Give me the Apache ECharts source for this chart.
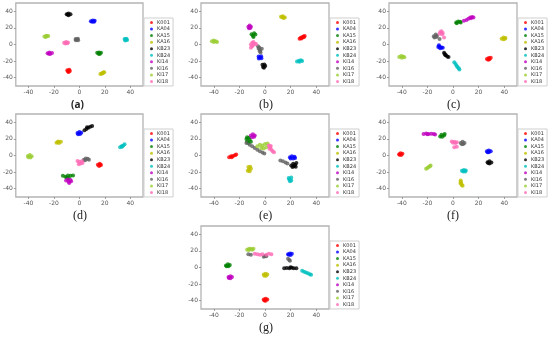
<!DOCTYPE html>
<html><head><meta charset="utf-8">
<script src="https://cdn.jsdelivr.net/npm/echarts@6/dist/echarts.min.js"></script>
<style>html,body{margin:0;padding:0;background:#fff}#c{width:550px;height:338px}</style>
</head><body><div id="c"></div>
<script>
// class names and colours (legend order)
const classNames = ['K001','KA04','KA15','KA16','KB23','KB24','KI14','KI16','KI17','KI18'];
const classColors = ['#ff0000','#0000ff','#008000','#bfbf00','#000000','#00bfbf','#bf00bf','#606060','#9acd32','#ff69b4'];
const panelLabels = ['(a)','(b)','(c)','(d)','(e)','(f)','(g)'];
const tickValues = [-40,-20,0,20,40];

// points per panel, one list per class in classNames order
const pointsA = [
 [[-9.5,-31],[-8,-30.5],[-8.5,-33],[-7.5,-32],[-9,-32.5]],
 [[9,28],[10.5,29],[12,28.5],[10,27.3],[11.5,27.5]],
 [[14,-10],[15.5,-9.5],[17,-10],[16,-11.5],[15,-11]],
 [[16.5,-35.5],[17.5,-34.8],[18.5,-34],[19.5,-33.3],[18,-35],[19,-33.8]],
 [[-10,36.5],[-8.5,37.5],[-7,36.5],[-8.5,35.3],[-9.3,36]],
 [[35.5,6.5],[37,7],[37.5,5.5],[36,4.8],[36.5,6]],
 [[-25,-10.5],[-23.5,-9.5],[-21.5,-10.3],[-23,-11.5],[-24,-11]],
 [[-3,6.5],[-1.2,6.8],[-2.8,5],[-1,5],[-2,6]],
 [[-27.5,9.5],[-26,10.5],[-24.5,10.3],[-26.5,9],[-25.5,9.8]],
 [[-12,2],[-10.5,3],[-9,2.5],[-11,1.3],[-9.5,1.5]]
];
const pointsB = [
 [[27,7],[28,8],[29,8.8],[30,9.5],[31,10.2],[28.5,7.3],[30.3,8.8]],
 [[-5,-14.5],[-3,-14.3],[-2.8,-16.5],[-4.8,-16.8],[-3.9,-15.6]],
 [[-10.5,12.5],[-8.5,13.5],[-7.5,12],[-9.5,10.5],[-9,9]],
 [[12.5,33.5],[14,34],[15.5,32.5],[14.5,31.8],[13.5,32.8]],
 [[-2,-24.5],[-0.5,-24],[0.2,-26],[-1.5,-27],[-0.8,-28]],
 [[25,-20.5],[26.5,-19.5],[28,-19],[29,-20],[27,-20.8]],
 [[-13,21.5],[-12,22.8],[-11,21.5],[-12.5,19.5],[-11.5,20]],
 [[-5.5,-2],[-4.5,-3.5],[-5,-5],[-3.8,-6.5],[-4,-8],[-3.5,-9.5],[-2.5,-5]],
 [[-41.5,4],[-40,4.8],[-38.5,3.8],[-37.5,3],[-40,3]],
 [[-10,2],[-9,3],[-8,1],[-11,0],[-7,0.5],[-10,-2],[-11,-4],[-9.5,-1]]
];
const pointsC = [
 [[26.5,-17.5],[28,-16.3],[29.5,-16],[28.5,-17.8],[27.5,-18.5]],
 [[-11,-1],[-10.5,-2.5],[-9,-3.5],[-10,-4.5],[-8,-4],[-11.5,-3]],
 [[2.5,26.5],[4,27.8],[5.5,27.5],[3,25.5],[6,26.5]],
 [[38,7],[39.5,8.5],[41,7.8],[39.5,6.3],[40.5,7]],
 [[-7,-10],[-6.5,-11.5],[-5.5,-13],[-4.5,-14.5],[-3.5,-15],[-6,-12.5]],
 [[1,-21.5],[2,-23.5],[2.8,-25.5],[3.5,-27],[4.5,-28.5],[5,-30]],
 [[8.5,28.5],[10.5,29.5],[12,31],[13.5,32.5],[15,33],[16,32.5],[14,31.5]],
 [[-15,10],[-13.5,12],[-12.5,10.5],[-14.5,8.5],[-13,9],[-10.5,6.5]],
 [[-42,-15],[-40.5,-14],[-39,-14.5],[-38,-15.5],[-40,-16]],
 [[-10,15],[-9,16],[-8,14],[-10.5,13],[-8.5,12.5],[-7,8.5]]
];
const pointsD = [
 [[14.5,-11],[16,-10],[17,-11.5],[15.5,-12.5],[16.2,-11]],
 [[-1.5,27],[0,28.2],[1.5,27.5],[0.5,25.8],[-1,25.5]],
 [[-13,-24.5],[-11,-25.5],[-9,-24],[-7,-24.5],[-5,-24],[-10,-26.5],[-8.5,-27]],
 [[-18,15.5],[-16.5,16.8],[-14.5,16.5],[-16,15],[-17,16.2]],
 [[4,30.5],[5.5,32],[7,33.5],[8.5,34.5],[10,35.5],[6,34]],
 [[32,10],[33.2,11],[34.5,12],[35.5,13.5],[33.5,10.5]],
 [[-10.5,-30],[-9,-29],[-7,-29.5],[-6.5,-31],[-8.5,-31.5],[-8,-33]],
 [[3.5,-5],[5,-3.5],[6.5,-4],[7.5,-5],[4.5,-5.8]],
 [[-40.5,-0.5],[-39,0.5],[-37.5,-1],[-38.5,-2.5],[-40,-2]],
 [[-1.5,-6.5],[0,-7.5],[2,-7],[1,-9.5],[-0.5,-10.5],[2.5,-9]]
];
const pointsE = [
 [[-28,-2],[-26.5,-1],[-25,-0.5],[-23.5,0.3],[-22.5,1.2],[-26,-2]],
 [[19.5,-2],[21,-1],[23,-1.5],[22,-3.5],[20,-3.5],[23.5,-3]],
 [[-14.5,20],[-14,17],[-13,15],[-12,19],[-11,16.5],[-14,22],[-12.5,21.5]],
 [[-13,-14],[-11.5,-13.5],[-11,-16],[-12.5,-17],[-13.5,-18.5],[-12,-19]],
 [[20.5,-12],[22,-10],[23.5,-11],[24.5,-9],[22.5,-13],[24,-13.5],[21.5,-14]],
 [[18.5,-27],[20.5,-26.5],[19,-29],[20.5,-30],[19.5,-31]],
 [[-11,24],[-9.5,25.5],[-8,24],[-10,22],[-8.5,22.5]],
 [[-14.5,15],[-12,13],[-10,11],[-8,9],[-6,7],[-4,5],[-2,3.5],[-0.5,2.5],[12,-6],[14,-7],[16,-8.5],[17.5,-9.5]],
 [[-6,11],[-4,13],[-2,12],[0,14],[2,14.5],[-3,9],[-1,8.5],[1,10]],
 [[3,12],[4,10],[3.5,8],[5,7],[6,5],[7,4],[4.5,11.5]]
];
const pointsF = [
 [[-42,1.5],[-41,2.8],[-39.5,2],[-40.5,0.5],[-41.8,0.8]],
 [[26.5,5],[28,6],[29.5,5],[28,3.8],[27,4]],
 [[-10,23],[-8.5,22.5],[-7,24],[-6.5,25.8],[-9,25]],
 [[6,-30],[6.2,-32],[6.5,-34],[6.8,-35.5],[7.5,-36.5],[5.8,-33]],
 [[27,-8],[28.5,-7],[30,-8.5],[28.5,-9.5],[27.5,-9]],
 [[7,-18.5],[8.5,-17.5],[10,-18],[9.5,-19.2],[8,-19.3]],
 [[-23,26],[-21,26.5],[-19,26],[-17,26.3],[-15,25.8],[-14,25.3],[-20,25.5]],
 [[6,15],[7.5,16.5],[9,15],[7,13.5],[8,14]],
 [[-21,-16],[-20,-15],[-19,-14],[-18,-13],[-17.5,-12]],
 [[-1,17],[1,16.5],[3,16],[2,15],[0,15.5],[1,10],[3,10.5]]
];
const pointsG = [
 [[-1,-38.5],[0.5,-37.5],[1.8,-38.5],[0.5,-40],[-0.5,-39.8]],
 [[18,16],[19.5,17],[21,16.5],[20,15],[18.5,15.3]],
 [[-30.5,2.5],[-29,3.8],[-27.5,3],[-28.5,1.5],[-30,1.5]],
 [[-1,-8.5],[0.5,-7.5],[1.8,-8.5],[0.8,-10],[-0.5,-9.8]],
 [[15,-0.8],[17,-0.5],[19,-1],[21,-0.3],[22.5,-1],[24.5,-0.8],[20,0.2]],
 [[29,-4],[30.5,-5],[32,-6],[33.5,-7],[35,-8],[36,-8.8]],
 [[-28.5,-11.5],[-27,-10.5],[-25.8,-11.5],[-27,-13],[-28.2,-12.8]],
 [[-13,16],[-11,15.5],[0,14],[-1,13],[1,13.5],[18,10.5],[19,9],[19.5,8]],
 [[-14,21.5],[-12.5,22.5],[-11,22.5],[-9,22.5],[-10,21.5],[-12.5,21]],
 [[-8,16.5],[-6,16],[-4,15.5],[-2,16],[1,15.5],[3,16.5],[5,16]]
];
const allPanels = [pointsA,pointsB,pointsC,pointsD,pointsE,pointsF,pointsG];

// layout
const boxes = [
 {l:15,t:3},{l:201,t:3},{l:389,t:3},
 {l:15,t:114},{l:201,t:114},{l:389,t:114},
 {l:201,t:226}
];
const PW = 128, PH = 83;

const grid=[], xAxis=[], yAxis=[], legend=[], series=[], graphic=[];
boxes.forEach((b,i)=>{
  grid.push({left:b.l, top:b.t, width:PW, height:PH, show:true, borderColor:'#b4b4b4', borderWidth:1.3, backgroundColor:'#fff', containLabel:false});
  const mk = (pos)=>({type:'value', min:-50, max:50, gridIndex:i, position:pos,
    axisLine:{show:false, onZero:false}, splitLine:{show:false},
    axisTick:{show:true, inside:false, length:2, lineStyle:{color:'#888',width:0.8}, customValues:tickValues},
    axisLabel:{fontSize:6, color:'#555', margin:3, fontFamily:'DejaVu Sans', customValues:tickValues}});
  xAxis.push(mk('bottom'));
  yAxis.push(mk('left'));
  legend.push({orient:'vertical', left:b.l+PW+1, top:b.t+PH-68, data:classNames,
    icon:'circle', itemWidth:3, itemHeight:3, itemGap:1.55, padding:[2,3,2,6],
    borderColor:'#cfcfcf', borderWidth:1, backgroundColor:'#fff',
    textStyle:{fontSize:5, lineHeight:5, color:'#333', fontFamily:'DejaVu Sans', padding:[0,0,0,-1]},
    selectedMode:false});
  classNames.forEach((nm,c)=>{
    series.push({type:'scatter', name:nm, xAxisIndex:i, yAxisIndex:i,
      data:allPanels[i][c], symbol:'circle', symbolSize:4,
      itemStyle:{color:classColors[c]}, silent:true, animation:false});
  });
  const isA = i===0;
  graphic.push({type:'text', left:b.l+PW/2+ (isA?0:2) - 8, top:b.t+PH+ (isA?14:13),
    style:{text:panelLabels[i], fontSize:isA?10:12, fontWeight:isA?'bold':'normal',
      fontFamily:isA?'Open Sans':'Liberation Serif', fill:'#222'}});
});

const chart = echarts.init(document.getElementById('c'), null, {renderer:'canvas'});
chart.setOption({animation:false, backgroundColor:'#fff', grid, xAxis, yAxis, legend, series, graphic});
</script></body></html>
